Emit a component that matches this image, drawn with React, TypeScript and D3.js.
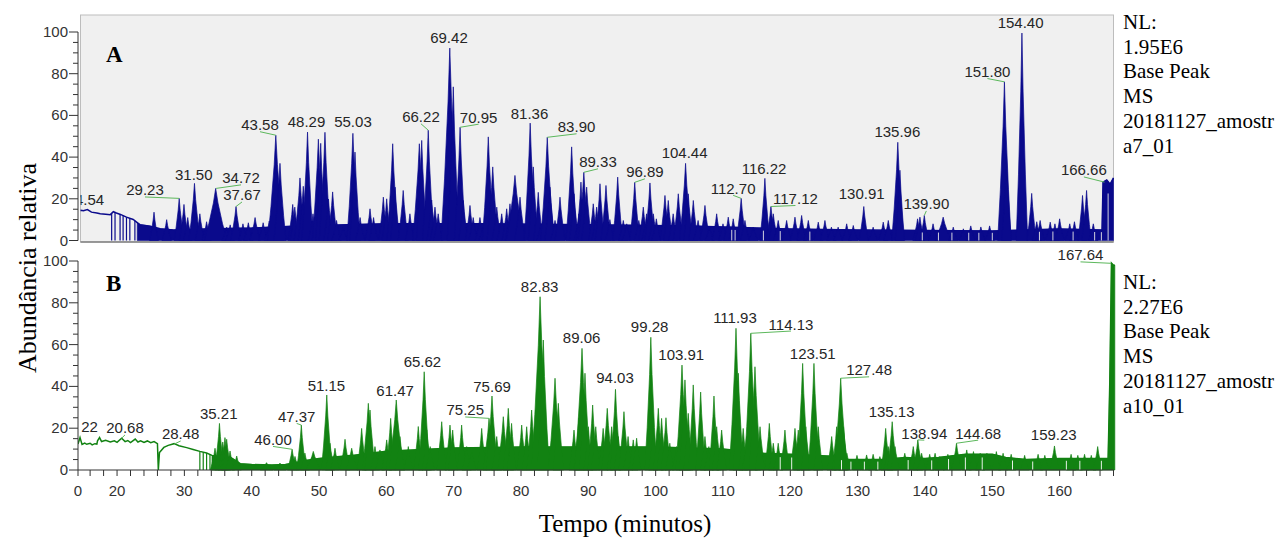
import React from "react";
import * as d3 from "d3";

type P = [number, number];
type Peak = [number, number, number];
type Lab = [string, number, number, number, number, boolean];

// ---------- axis data ----------
const xDomain: P = [14.2, 168];
const xTickLabels = [20, 30, 40, 50, 60, 70, 80, 90, 100, 110, 120, 130, 140, 150, 160];
const xStartLabel = "0";
const xMinorTicks = d3.range(16, 168.1, 2);
const yTickLabels = [0, 20, 40, 60, 80, 100];
const yMinorTicks = d3.range(0, 101, 5);

// ---------- panel A (blue) ----------
const aInfo = ["NL:", "1.95E6", "Base Peak", "MS", "20181127_amostr", "a7_01"];
const aBaseline: P[] = [
  [14.2, 14], [14.6, 14.5], [15.0, 14.3], [15.6, 14.8], [16.2, 13.6], [17.0, 13.2], [17.5, 12.8],
  [18.3, 12.6], [19.0, 12.4], [19.45, 13.8], [19.9, 13.2], [20.5, 12.5], [21.4, 11.2], [22.4, 10.1],
  [23.0, 8.6], [23.4, 7.6], [24.9, 6.9], [26.4, 5.6], [28.4, 5], [33, 5.5], [40, 6], [47, 7],
  [60, 8], [75, 8], [90, 7.5], [105, 7], [115, 6], [120, 5.5], [130, 5], [140, 4.8], [150, 4.6],
  [160, 5.5], [166.3, 5], [166.45, 28], [167, 29], [167.5, 27], [168, 30],
];
const aFillStart = 23.0;
const aDropouts = [19.2, 19.7, 20.45, 20.9, 21.4, 21.9, 22.65];
const aGaps = [111.3, 111.8, 116.0, 118.5, 122.9, 139.6, 142, 144, 146.5, 148, 150, 157, 159, 162, 165.2, 166.2, 167.2];
const aPeaks: Peak[] = [
  [25.49, 13.6, 0.25], [27.37, 10, 0.3], [29.23, 20.2, 0.35], [29.94, 17.3, 0.3], [30.5, 11, 0.25],
  [31.5, 27.4, 0.45], [32.3, 12.8, 0.3], [33.3, 9, 0.3], [34.65, 25, 1.3], [36.28, 6.4, 0.3],
  [36.8, 7.5, 0.3], [37.67, 16.3, 0.4], [38.7, 8, 0.3], [39.5, 8.5, 0.3], [40.5, 11, 0.4],
  [41.7, 8.5, 0.3], [42.6, 9.3, 0.3], [43.58, 50.5, 0.8], [44.2, 37, 0.5], [46.09, 17.3, 0.3],
  [46.4, 16, 0.3], [47.17, 30, 0.45], [47.66, 26, 0.35], [48.29, 52, 0.45], [49.1, 12.8, 0.3],
  [49.9, 48.6, 0.5], [50.25, 46.6, 0.35], [50.88, 51.9, 0.45], [51.4, 19.9, 0.3], [52.02, 23.3, 0.35],
  [52.6, 9.6, 0.3], [53.6, 6.4, 0.3], [55.03, 51.4, 0.5], [55.34, 42.4, 0.4], [56.1, 11, 0.3],
  [57.57, 15.2, 0.35], [58.1, 11, 0.3], [59.55, 20.8, 0.3], [60.05, 20, 0.3], [60.94, 46.4, 0.45],
  [61.3, 25.6, 0.3], [62.5, 24, 0.35], [63.5, 12.8, 0.3], [64.9, 46.4, 0.6], [65.25, 48, 0.4],
  [66.22, 52.9, 0.45], [66.73, 19.4, 0.3], [67.22, 16, 0.3], [67.7, 12.8, 0.3], [69.42, 92.3, 0.9],
  [69.94, 73.7, 0.5], [70.95, 54.3, 0.45], [71.43, 19.2, 0.3], [72.42, 16.8, 0.3], [72.9, 11, 0.3],
  [73.9, 11, 0.3], [74.4, 6.4, 0.3], [75.14, 49.7, 0.5], [75.8, 35.3, 0.45], [76.4, 16, 0.3],
  [77.13, 12.8, 0.3], [77.87, 15.2, 0.3], [78.36, 17.6, 0.3], [79.1, 31.2, 0.9], [79.85, 20.8, 0.4],
  [81.36, 56.3, 0.5], [81.82, 35.3, 0.35], [82.56, 23.1, 0.3], [83.0, 8, 0.3], [83.9, 49.5, 0.6],
  [84.3, 25.6, 0.35], [85.05, 9.6, 0.3], [85.79, 20.8, 0.35], [87.52, 44.9, 0.45], [87.87, 22.4, 0.3],
  [88.6, 12.8, 0.3], [88.9, 28, 0.3], [89.33, 32.7, 0.45], [89.75, 25.6, 0.35], [90.73, 17.6, 0.3],
  [91.23, 16, 0.3], [91.73, 27.2, 0.3], [92.62, 26.4, 0.35], [93.2, 10, 0.3], [94.36, 30.4, 0.35],
  [95.19, 9.6, 0.3], [95.7, 8, 0.3], [96.89, 27.9, 0.35], [97.5, 9.6, 0.3], [98.16, 16, 0.3],
  [98.65, 12.8, 0.3], [99.15, 27.6, 0.35], [99.65, 12.8, 0.3], [100.1, 10.4, 0.3], [101.38, 21.6, 0.35],
  [101.87, 19.2, 0.3], [102.6, 12.8, 0.3], [103.36, 22.4, 0.35], [104.44, 37, 0.5], [104.84, 22.4, 0.3],
  [105.59, 19.2, 0.3], [106.3, 9.6, 0.3], [107.32, 16.8, 0.35], [108.0, 6.4, 0.3], [109.06, 12.8, 0.3],
  [110.0, 8, 0.3], [110.78, 11.2, 0.3], [111.52, 10.4, 0.3], [112.7, 20.2, 0.35], [113.26, 9.6, 0.3],
  [114.5, 6.4, 0.3], [116.22, 29.8, 0.35], [117.12, 16.3, 0.35], [117.47, 12.8, 0.3], [118.2, 9.6, 0.3],
  [119.45, 9.6, 0.3], [120.69, 11.2, 0.3], [121.68, 12, 0.3], [122.67, 9.6, 0.3], [124.15, 8.8, 0.3],
  [125.14, 9.6, 0.3], [126.1, 6.4, 0.3], [127.1, 6.4, 0.3], [128.37, 8, 0.3], [129.35, 7.2, 0.3],
  [130.91, 16.3, 0.3], [132.3, 6.4, 0.3], [133.8, 8.8, 0.3], [134.55, 9.6, 0.3], [135.96, 47.1, 0.5],
  [136.28, 33.7, 0.3], [138.9, 10.4, 0.3], [139.25, 11.2, 0.3], [139.9, 12, 0.3], [141.2, 8, 0.3],
  [142.7, 11.2, 0.8], [144.2, 6.4, 0.3], [145.7, 5.6, 0.3], [146.8, 7, 0.3], [148.3, 6.5, 0.3],
  [149.6, 7, 0.3], [151.8, 76.1, 0.6], [152.1, 40, 0.3], [154.4, 99.5, 0.45], [155.85, 22.6, 0.3],
  [156.6, 9, 0.3], [157.1, 9.6, 0.3], [158.6, 8.8, 0.3], [159.3, 8, 0.3], [160.0, 10.4, 0.3],
  [161.5, 8, 0.3], [162.2, 9, 0.3], [163.4, 21.6, 0.3], [164.0, 24, 0.3], [165.0, 8, 0.3],
];
const aLabels: Lab[] = [
  ["14.54", 14.54, 14.5, 15.3, 16.8, false],
  ["29.23", 29.23, 20.2, 24.15, 21.6, true],
  ["31.50", 31.5, 27.4, 31.4, 28.8, false],
  ["34.72", 34.72, 25, 38.41, 27.4, true],
  ["37.67", 37.67, 16.3, 38.56, 19.2, true],
  ["43.58", 43.58, 50.5, 41.23, 52.9, true],
  ["48.29", 48.29, 52, 48.14, 54.3, false],
  ["55.03", 55.03, 51.4, 55.04, 54.3, false],
  ["66.22", 66.22, 52.9, 65.14, 56.7, true],
  ["69.42", 69.42, 92.3, 69.3, 94.5, false],
  ["70.95", 70.95, 54.3, 73.7, 56.5, true],
  ["81.36", 81.36, 56.3, 81.26, 58.4, false],
  ["83.90", 83.9, 49.5, 88.25, 51.9, true],
  ["89.33", 89.33, 32.7, 91.43, 35.1, true],
  ["96.89", 96.89, 27.9, 98.4, 30.3, true],
  ["104.44", 104.44, 37, 104.3, 39.4, false],
  ["112.70", 112.7, 20.2, 111.5, 22.4, true],
  ["116.22", 116.22, 29.8, 116.1, 32, false],
  ["117.12", 117.12, 16.3, 120.76, 17.5, true],
  ["130.91", 130.91, 16.3, 130.6, 20, false],
  ["135.96", 135.96, 47.1, 135.9, 49.5, false],
  ["139.90", 139.9, 12, 140.2, 14.9, true],
  ["151.80", 151.8, 76.1, 149.27, 78.4, true],
  ["154.40", 154.4, 99.5, 154.2, 101.7, false],
  ["166.66", 166.66, 28, 163.6, 31.2, true],
];

// ---------- panel B (green) ----------
const bInfo = ["NL:", "2.27E6", "Base Peak", "MS", "20181127_amostr", "a10_01"];
const bBaseline: P[] = [
  [14.2, 12.4], [14.5, 15.5], [14.8, 12.2], [15.2, 12.9], [15.5, 12.3], [16.0, 12.8], [16.3, 12],
  [16.7, 12.6], [17.0, 12.4], [17.1, 14], [17.4, 15.5], [17.7, 13.6], [18.3, 14.2], [19, 13.4],
  [19.6, 14], [20.0, 13.2], [20.68, 15.2], [21.2, 13.6], [21.6, 14.1], [22.0, 13.1], [22.7, 14.8],
  [23.1, 13.4], [23.5, 14], [24.0, 13.2], [24.5, 13.9], [25.0, 13.1], [25.5, 13.6], [26.0, 12.6],
  [26.13, 0], [26.3, 8.4], [26.95, 10.8], [27.6, 11.8], [28.48, 12.6], [29.2, 11.6], [30.34, 10.7],
  [31.3, 9.8], [32.3, 8.9], [33.3, 8.1], [34.1, 7], [35, 6.5], [37, 5.8], [38.3, 3], [40, 2.6],
  [43, 2.4], [45, 2.6], [46.5, 3.5], [48, 4.5], [50, 5.5], [55, 7], [60, 9], [70, 10.5], [80, 11],
  [90, 11], [100, 11], [110, 10], [116, 8], [120, 7.5], [127, 6.5], [128.5, 5], [134, 5], [137, 6],
  [140, 5.5], [142, 6], [146, 7.5], [150, 7.5], [152, 6], [155, 5], [160, 5.5], [166, 5.5],
  [167.2, 5.5], [167.45, 42], [167.7, 99], [168, 98], [168.2, 98],
];
const bFillStart = 34.1;
const bDropouts = [32.3, 32.8, 33.3, 33.8];
const bGaps = [118.5, 120.2, 127.6, 129, 131, 133, 137.5, 141, 143.5, 146, 148.5, 153, 156, 161, 163, 166.2];
const bPeaks: Peak[] = [
  [34.55, 10.4, 0.3], [35.21, 22.3, 0.3], [35.7, 13.4, 0.3], [36.03, 15.5, 0.3], [36.28, 14.7, 0.3],
  [36.78, 9.1, 0.3], [37.77, 6.7, 0.3], [42.2, 3.5, 0.5], [44.2, 3.3, 0.5], [46.0, 9.9, 0.3],
  [46.43, 6.5, 0.3], [47.37, 21.5, 0.3], [47.9, 8.1, 0.3], [49.15, 8.9, 0.7], [51.15, 35.9, 0.4],
  [51.63, 12.8, 0.3], [52.37, 10.4, 0.3], [53.86, 14.7, 0.35], [54.85, 10.4, 0.5], [56.33, 19.9, 0.3],
  [57.32, 31.9, 0.5], [57.57, 28.7, 0.4], [58.31, 11.2, 0.3], [59.05, 9.6, 0.3], [60.05, 14.4, 0.35],
  [60.64, 24.7, 0.3], [61.47, 33.5, 0.7], [62.02, 16, 0.35], [63.26, 11.2, 0.3], [64.74, 20.8, 0.3],
  [65.62, 47, 0.45], [66.0, 19.2, 0.3], [66.5, 11.2, 0.3], [68.22, 23.1, 0.35], [69.45, 21.5, 0.35],
  [69.85, 19.1, 0.3], [71.18, 21.5, 0.3], [71.93, 11.2, 0.3], [72.67, 9.6, 0.3], [74.16, 19.9, 0.3],
  [75.25, 24.7, 0.5], [75.69, 35.4, 0.5], [76.39, 16, 0.35], [77.37, 25.5, 0.45], [78.11, 29.5, 0.4],
  [78.6, 22.3, 0.3], [80.1, 21.5, 0.35], [80.84, 20.7, 0.3], [81.58, 28.7, 0.35], [82.83, 82.9, 0.9],
  [83.31, 62.2, 0.5], [85.05, 43.9, 0.6], [85.54, 31.9, 0.4], [87.87, 19.1, 0.35], [88.6, 25, 0.4],
  [89.06, 58.2, 0.7], [89.5, 46.3, 0.45], [90.0, 20.7, 0.3], [90.64, 31.1, 0.35], [91.1, 20.7, 0.3],
  [92.2, 19.9, 0.35], [92.81, 29.5, 0.45], [93.46, 20.7, 0.3], [94.03, 38.6, 0.4], [94.45, 16, 0.3],
  [95.29, 27.9, 0.4], [95.9, 16, 0.3], [96.67, 14.4, 0.3], [97.17, 15.2, 0.3], [99.28, 63.5, 0.5],
  [99.64, 20.7, 0.3], [100.39, 29.5, 0.35], [100.88, 24.7, 0.3], [101.53, 25, 0.35], [102.1, 12.8, 0.3],
  [103.1, 11.2, 0.3], [103.91, 50.2, 0.55], [104.35, 43.1, 0.45], [104.84, 27.1, 0.3], [105.58, 40.7, 0.35],
  [106.68, 37.3, 0.35], [107.32, 16, 0.3], [107.9, 11.2, 0.3], [108.66, 35.4, 0.35], [109.06, 20.7, 0.3],
  [109.8, 19.1, 0.35], [111.93, 67.8, 0.6], [112.27, 46.3, 0.4], [113.0, 19.9, 0.3], [113.5, 16, 0.3],
  [114.13, 65.4, 0.6], [114.75, 49.4, 0.5], [115.5, 20.7, 0.35], [116.88, 22.3, 0.3], [117.47, 12.8, 0.3],
  [118.2, 12.8, 0.3], [119.2, 19.1, 0.3], [120.69, 19.9, 0.35], [121.18, 19.1, 0.3], [121.83, 51, 0.45],
  [122.3, 20.7, 0.3], [123.51, 51, 0.45], [124.15, 20.7, 0.3], [126.14, 16, 0.3], [126.88, 20.7, 0.3],
  [127.48, 43.9, 0.6], [127.9, 20.7, 0.35], [128.4, 8, 0.3], [129.9, 7, 0.3], [131.33, 7.2, 0.3],
  [132.3, 7.5, 0.3], [133.3, 6.4, 0.3], [134.16, 19.9, 0.3], [134.55, 11.2, 0.3], [135.13, 23.1, 0.35],
  [135.55, 11.2, 0.3], [137.0, 8, 0.3], [138.26, 11.2, 0.3], [138.94, 14.4, 0.35], [139.5, 8, 0.3],
  [140.7, 7.5, 0.3], [141.5, 8, 0.3], [142.2, 6.4, 0.3], [143.4, 7.5, 0.3], [144.68, 12.8, 0.35],
  [146.2, 9.6, 0.3], [147.2, 8.8, 0.3], [148.2, 8, 0.3], [149.2, 8, 0.3], [150.6, 8.8, 0.3],
  [151.6, 8, 0.3], [152.8, 7.5, 0.3], [154.8, 7, 0.3], [156.8, 7.5, 0.3], [157.8, 7, 0.3],
  [159.23, 11.5, 0.35], [161.7, 7.5, 0.3], [162.7, 7, 0.3], [163.7, 7.5, 0.3], [164.7, 7, 0.3],
  [165.65, 11.2, 0.3],
];
const bLabels: Lab[] = [
  ["22", 14.22, 15.5, 15.91, 18.2, false],
  ["20.68", 20.68, 15.2, 21.18, 17.5, true],
  ["28.48", 28.48, 12.4, 29.45, 14.6, true],
  ["35.21", 35.21, 22.3, 35.1, 24.6, false],
  ["46.00", 46.0, 9.9, 43.16, 12, true],
  ["47.37", 47.37, 21.5, 46.68, 23, true],
  ["51.15", 51.15, 35.9, 51.1, 37.6, false],
  ["61.47", 61.47, 33.5, 61.3, 35.4, false],
  ["65.62", 65.62, 47, 65.36, 49.3, false],
  ["75.25", 75.25, 24.7, 71.72, 26.1, true],
  ["75.69", 75.69, 35.4, 75.7, 37.3, false],
  ["82.83", 82.83, 82.9, 82.76, 85.2, false],
  ["89.06", 89.06, 58.2, 89.0, 61, false],
  ["94.03", 94.03, 38.6, 93.96, 41.4, false],
  ["99.28", 99.28, 63.5, 99.1, 65.8, false],
  ["103.91", 103.91, 50.2, 103.8, 52.5, false],
  ["111.93", 111.93, 67.8, 111.78, 70.1, false],
  ["114.13", 114.13, 65.4, 120.1, 67.2, true],
  ["123.51", 123.51, 51, 123.33, 53.3, false],
  ["127.48", 127.48, 43.9, 131.7, 45.3, true],
  ["135.13", 135.13, 23.1, 135.04, 25.4, false],
  ["138.94", 138.94, 14.4, 139.9, 15, true],
  ["144.68", 144.68, 12.8, 147.9, 15, true],
  ["159.23", 159.23, 11.5, 159.13, 14.2, false],
  ["167.64", 167.64, 98.9, 163.1, 100.3, true],
];

const SANS = "'Liberation Sans', Arial, sans-serif";
const SERIF = "'Liberation Serif', 'Times New Roman', serif";
const PEAK_BASE_PAD = 0.4; // extra base half-width (min) for the drawn peak shape

type Scale = d3.ScaleLinear<number, number>;

function peakPath(x: Scale, y: Scale, p: Peak): string {
  const [t, h, w0] = p;
  const w = w0 + PEAK_BASE_PAD;
  const pts: P[] = [
    [t - w, 0], [t - 0.6 * w, 0.32 * h], [t - 0.2 * w, 0.72 * h], [t, h],
    [t + 0.2 * w, 0.72 * h], [t + 0.6 * w, 0.32 * h], [t + w, 0],
  ];
  return (d3.line<P>().x((d) => x(d[0])).y((d) => y(d[1]))(pts) || "") + "Z";
}

function baseAt(base: P[], t: number): number {
  const i = d3.bisector((d: P) => d[0]).left(base, t);
  if (i <= 0) return base[0][1];
  if (i >= base.length) return base[base.length - 1][1];
  const a = base[i - 1], b = base[i];
  return a[1] + ((t - a[0]) / (b[0] - a[0])) * (b[1] - a[1]);
}

interface TraceProps {
  id: string; x: Scale; y: Scale; baseline: P[]; fillStart: number; dropouts: number[];
  gaps: number[]; peaks: Peak[]; color: string; gapColor: string; clipX0: number;
}

function Trace({ id, x, y, baseline, fillStart, dropouts, gaps, peaks, color, gapColor, clipX0 }: TraceProps) {
  const line = d3.line<P>().x((d) => x(d[0])).y((d) => y(d[1]));
  const area = d3.area<P>().x((d) => x(d[0])).y0(y(0)).y1((d) => y(d[1]));
  const filled = baseline.filter((d) => d[0] >= fillStart);
  return (
    <g>
      <defs>
        <clipPath id={id}>
          <rect x={clipX0} y={0} width={1116 - clipX0} height={y(0) + 1} />
        </clipPath>
      </defs>
      <g clipPath={`url(#${id})`}>
        <path d={line(baseline) || ""} fill="none" stroke={color} strokeWidth={1.5} />
        <path d={area(filled) || ""} fill={color} stroke={color} strokeWidth={0.6} />
        {dropouts.map((t, i) => (
          <line key={"d" + i} x1={x(t)} x2={x(t)} y1={y(0)} y2={y(baseAt(baseline, t))} stroke={color} strokeWidth={1.2} />
        ))}
        {peaks.map((p, i) => (
          <path key={"p" + i} d={peakPath(x, y, p)} fill={color} stroke={color} strokeWidth={0.7} strokeLinejoin="round" />
        ))}
        {gaps.map((t, i) => (
          <line key={"g" + i} x1={x(t)} x2={x(t)} y1={y(0)} y2={y(baseAt(baseline, t) * 0.8)} stroke={gapColor} strokeWidth={0.9} />
        ))}
      </g>
    </g>
  );
}

function Labels({ x, y, labels }: { x: Scale; y: Scale; labels: Lab[] }) {
  return (
    <g clipPath="url(#lblClip)">
      {labels.map(([txt, pt, ph, lt, lh, leader], i) => (
        <g key={i}>
          {leader && (
            <line x1={x(lt)} y1={y(lh) + 1.5} x2={x(pt)} y2={y(ph)} stroke="#5cb85c" strokeWidth={1} />
          )}
          <text x={x(lt)} y={y(lh)} textAnchor="middle" fontFamily={SANS} fontSize={15} fill="#262626">
            {txt}
          </text>
        </g>
      ))}
    </g>
  );
}

function YAxis({ y, x0 }: { y: Scale; x0: number }) {
  return (
    <g>
      <line x1={x0} x2={x0} y1={y(100)} y2={y(0)} stroke="#333" strokeWidth={1} />
      {yMinorTicks.map((v) => (
        <line key={"m" + v} x1={x0 - (v % 20 === 0 ? 9 : 5)} x2={x0} y1={y(v)} y2={y(v)} stroke="#333" strokeWidth={1} />
      ))}
      {yTickLabels.map((v) => (
        <text key={v} x={x0 - 10} y={y(v) + 5} textAnchor="end" fontFamily={SANS} fontSize={15} fill="#333">
          {v}
        </text>
      ))}
    </g>
  );
}

function Info({ lines, x0, y0 }: { lines: string[]; x0: number; y0: number }) {
  return (
    <g>
      {lines.map((s, i) => (
        <text key={i} x={x0} y={y0 + i * 24.7} fontFamily={SERIF} fontSize={21} fill="#000">
          {s}
        </text>
      ))}
    </g>
  );
}

export default function App() {
  const x = d3.scaleLinear().domain(xDomain).range([78, 1113.5]);
  const yA = d3.scaleLinear().domain([0, 100]).range([240.5, 32]);
  const yB = d3.scaleLinear().domain([0, 100]).range([470, 261]);
  const blue = "#0a0a8c";
  const green = "#128212";
  const xEnd = x(xDomain[1]);

  return (
    <svg width={1279} height={539} style={{ position: "absolute", left: 0, top: 0, background: "#fff" }}>
      <defs>
        <clipPath id="lblClip">
          <rect x={80.5} y={0} width={1200} height={539} />
        </clipPath>
      </defs>

      {/* Panel A */}
      <rect x={80.5} y={15} width={xEnd - 80.5} height={227} fill="#f0f0f0" stroke="#bdbdbd" strokeWidth={1} />
      <Trace id="clipA" x={x} y={yA} baseline={aBaseline} fillStart={aFillStart} dropouts={aDropouts}
        gaps={aGaps} peaks={aPeaks} color={blue} gapColor="#e8e8e8" clipX0={80.5} />
      <line x1={80.5} x2={xEnd} y1={242} y2={242} stroke="#555" strokeWidth={1.2} />
      <YAxis y={yA} x0={78} />
      <Labels x={x} y={yA} labels={aLabels} />
      <text x={106} y={62} fontFamily={SERIF} fontWeight="bold" fontSize={23}>A</text>
      <Info lines={aInfo} x0={1123} y0={29} />

      {/* Panel B */}
      <Trace id="clipB" x={x} y={yB} baseline={bBaseline} fillStart={bFillStart} dropouts={bDropouts}
        gaps={bGaps} peaks={bPeaks} color={green} gapColor="#ffffff" clipX0={78} />
      <YAxis y={yB} x0={78} />
      <line x1={78} x2={xEnd} y1={yB(0)} y2={yB(0)} stroke="#333" strokeWidth={1} />
      {xMinorTicks.map((t) => (
        <line key={"xt" + t} x1={x(t)} x2={x(t)} y1={yB(0)} y2={yB(0) + 6} stroke="#333" strokeWidth={1} />
      ))}
      <line x1={x(xDomain[0])} x2={x(xDomain[0])} y1={yB(0)} y2={yB(0) + 6} stroke="#333" strokeWidth={1} />
      <text x={x(xDomain[0])} y={yB(0) + 26} textAnchor="middle" fontFamily={SANS} fontSize={15} fill="#333">
        {xStartLabel}
      </text>
      {xTickLabels.map((t) => (
        <text key={"xl" + t} x={x(t)} y={yB(0) + 26} textAnchor="middle" fontFamily={SANS} fontSize={15} fill="#333">
          {t}
        </text>
      ))}
      <Labels x={x} y={yB} labels={bLabels} />
      <text x={106} y={291} fontFamily={SERIF} fontWeight="bold" fontSize={23}>B</text>
      <Info lines={bInfo} x0={1123} y0={289} />

      {/* Axis titles */}
      <text transform="translate(36,268) rotate(-90)" textAnchor="middle" fontFamily={SERIF} fontSize={26} fill="#000">
        Abundância relativa
      </text>
      <text x={625} y={532} textAnchor="middle" fontFamily={SERIF} fontSize={25} fill="#000">
        Tempo (minutos)
      </text>
    </svg>
  );
}
